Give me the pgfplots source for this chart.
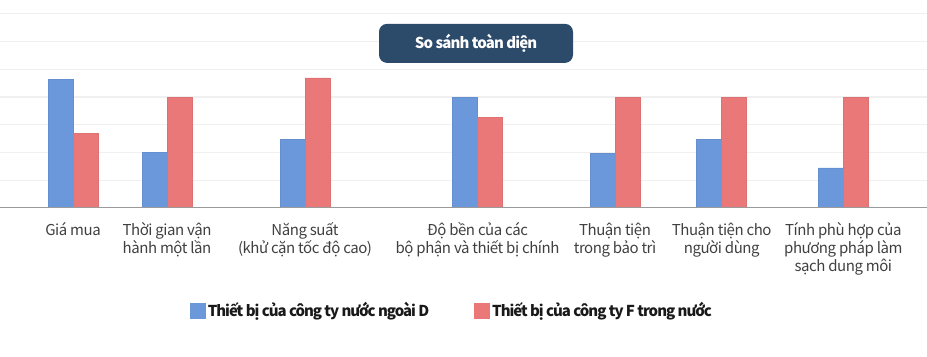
\documentclass[border=0pt]{standalone}
\usepackage{fontspec}
\setmainfont{Noto Sans CJK KR}
\usepackage{pgfplots}
\pgfplotsset{compat=1.18}
\definecolor{cblue}{HTML}{6A98DB}
\definecolor{cred}{HTML}{EA7878}
\definecolor{cnavy}{HTML}{2C4A69}
\definecolor{cgrid}{HTML}{F0F0F0}
\definecolor{caxis}{HTML}{9A9A9A}
\definecolor{ctext}{HTML}{404040}
\begin{document}
\begin{tikzpicture}
\begin{axis}[
  scale only axis,
  width=695.25pt, height=155.89pt,
  xmin=0, xmax=927, ymin=0, ymax=7.5,
  axis line style={draw=none},
  ytick={0,1,2,3,4,5,6,7}, yticklabels={},
  ymajorgrids, grid style={cgrid, line width=0.8pt},
  major tick length=0pt,
  xtick={73,167,305,477.5,615,721.7,843.3},
  xticklabels={{Giá mua},{Thời gian vận\\hành một lần},{Năng suất\\(khử cặn tốc độ cao)},{Độ bền của các\\bộ phận và thiết bị chính},{Thuận tiện\\trong bảo trì},{Thuận tiện cho\\người dùng},{Tính phù hợp của\\phương pháp làm\\sạch dung môi}},
  xticklabel style={align=center, text=ctext, font=\fontsize{11.25}{13.5}\selectfont\addfontfeatures{LetterSpace=-3}, inner sep=0pt, yshift=-11pt},
  ybar=0pt, bar width=18.75pt,
  legend columns=2,
  legend style={draw=none, fill=none, at={(0.4876,-0.4955)}, anchor=center,
    font=\bfseries\fontsize{11.25}{13}\selectfont\addfontfeatures{LetterSpace=-7}, text=black!90,
    /tikz/every even column/.append style={column sep=31.5pt}},
]
\addplot[fill=cblue, draw=cblue!95!black, line width=0.5pt,
  legend image code/.code={\fill[cblue] (0pt,-5.6pt) rectangle (11.25pt,5.6pt);}]
  coordinates {(73,4.63) (167,2.01) (305,2.47) (477.5,4.0) (615,1.97) (721.7,2.47) (843.3,1.44)};
\addlegendentry{Thiết bị của công ty nước ngoài D}
\addplot[fill=cred, draw=cred!95!black, line width=0.5pt,
  legend image code/.code={\fill[cred] (0pt,-5.6pt) rectangle (11.25pt,5.6pt);}]
  coordinates {(73,2.70) (167,4.0) (305,4.69) (477.5,3.27) (615,4.0) (721.7,4.0) (843.3,4.0)};
\addlegendentry{Thiết bị của công ty F trong nước}
\draw[caxis, line width=1.1pt] (axis cs:0,0) -- (axis cs:927,0);
\node[fill=cnavy, rounded corners=6pt, minimum width=145.5pt, minimum height=29.25pt,
  text=white, font=\bfseries\fontsize{11.25}{13}\selectfont\addfontfeatures{LetterSpace=-6}, inner sep=0pt]
  at (axis cs:476,5.936) {So sánh toàn diện};
\end{axis}
\pgfresetboundingbox
\path (0pt,-111.75pt) rectangle (695.25pt,155.89pt);
\end{tikzpicture}
\end{document}
